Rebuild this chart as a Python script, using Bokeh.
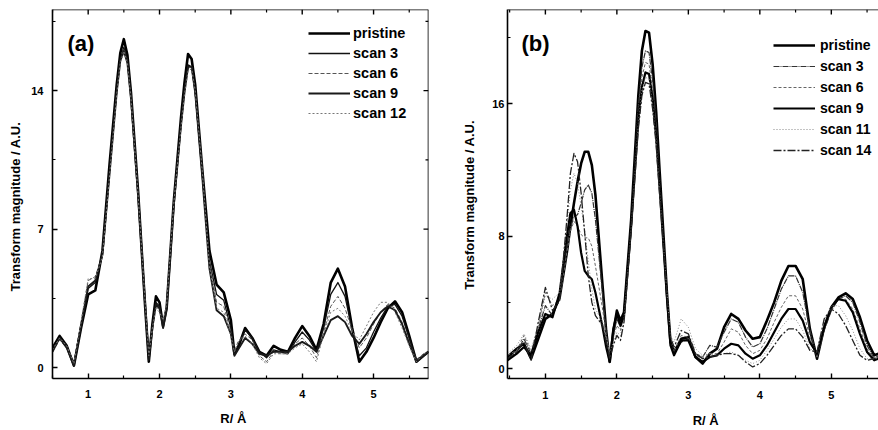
from bokeh.plotting import figure
from bokeh.models import FixedTicker, Legend, LegendItem, Label, Range1d, Span
from bokeh.layouts import row
from bokeh.embed import file_html
from bokeh.resources import INLINE

FONT = "Liberation Sans"
NB = "\u00a0"

# ---------------- panel (a) data ----------------
R_a = [0.5, 0.6, 0.7, 0.8, 0.9, 1.0, 1.1, 1.2, 1.3, 1.4, 1.45, 1.5, 1.55, 1.6, 1.7, 1.8, 1.85,
       1.9, 1.95, 2.0, 2.05, 2.1, 2.2, 2.3, 2.35, 2.4, 2.45, 2.5, 2.6, 2.7, 2.8, 2.9, 3.0, 3.05,
       3.1, 3.2, 3.3, 3.4, 3.5, 3.6, 3.7, 3.8, 3.9, 4.0, 4.1, 4.2, 4.3, 4.4, 4.5, 4.6, 4.7, 4.8,
       4.9, 5.0, 5.1, 5.2, 5.3, 5.4, 5.5, 5.6, 5.7, 5.77]
a_pristine = [1.0, 1.6, 1.1, 0.1, 2.0, 3.7, 3.9, 5.9, 10.3, 14.3, 15.9, 16.6, 15.8, 13.9, 8.9, 3.0, 0.3,
              2.2, 3.6, 3.3, 2.1, 3.0, 8.4, 12.6, 14.4, 15.85, 15.6, 14.3, 10.0, 5.9, 4.2, 3.8, 2.4, 0.7,
              1.0, 2.0, 1.5, 0.8, 0.6, 1.1, 0.9, 0.8, 1.5, 2.1, 1.6, 0.9, 2.2, 4.3, 5.0, 4.1, 2.0, 0.3,
              0.8, 1.5, 2.3, 3.0, 3.35, 2.8, 1.6, 0.3, 0.6, 0.8]
a_scan3 = [0.9, 1.5, 1.1, 0.2, 2.2, 4.0, 4.3, 5.8, 10.0, 14.0, 15.6, 16.2, 15.6, 13.8, 8.9, 3.1, 0.5,
           2.1, 3.3, 3.1, 2.2, 3.1, 8.3, 12.3, 14.0, 15.3, 15.2, 13.9, 9.8, 5.4, 3.7, 3.4, 2.0, 0.7,
           1.1, 1.9, 1.5, 0.8, 0.5, 0.9, 0.8, 0.7, 1.3, 1.8, 1.4, 0.8, 2.0, 3.7, 4.3, 3.6, 1.9, 0.6,
           1.0, 1.8, 2.5, 3.1, 3.2, 2.6, 1.5, 0.4, 0.6, 0.8]
a_scan6 = [0.8, 1.4, 1.0, 0.2, 2.3, 4.4, 4.6, 5.7, 9.8, 13.9, 15.5, 16.1, 15.5, 13.7, 8.8, 3.2, 0.5,
           2.0, 3.1, 2.9, 2.3, 3.2, 8.3, 12.2, 13.9, 15.1, 15.2, 14.0, 10.0, 5.3, 3.3, 3.1, 1.8, 0.8,
           1.3, 1.7, 1.4, 0.6, 0.3, 0.8, 0.7, 0.7, 1.2, 1.5, 1.1, 0.5, 1.8, 3.1, 3.6, 3.0, 1.9, 1.0,
           1.5, 2.2, 2.8, 3.2, 3.0, 2.3, 1.3, 0.4, 0.7, 0.8]
a_scan9 = [0.8, 1.5, 1.0, 0.1, 2.1, 4.1, 4.4, 5.7, 9.8, 13.9, 15.5, 16.0, 15.4, 13.6, 8.7, 3.1, 0.4,
           2.0, 3.2, 3.0, 2.0, 3.0, 8.2, 12.2, 13.9, 15.2, 15.2, 13.9, 9.6, 5.0, 2.9, 2.6, 1.7, 0.6,
           0.9, 1.5, 1.2, 0.7, 0.6, 0.8, 0.8, 0.8, 1.1, 1.3, 1.1, 0.8, 1.6, 2.4, 2.6, 2.3, 1.6, 1.2,
           1.7, 2.3, 2.8, 3.1, 2.9, 2.2, 1.2, 0.3, 0.6, 0.8]
a_scan12 = [0.9, 1.5, 1.1, 0.2, 2.3, 4.5, 4.5, 5.6, 9.7, 13.8, 15.4, 16.0, 15.4, 13.6, 8.7, 3.2, 0.6,
            2.0, 3.0, 2.8, 2.4, 3.2, 8.3, 12.1, 13.8, 15.0, 15.1, 14.0, 9.9, 5.1, 3.0, 2.8, 1.6, 0.8,
            1.3, 1.6, 1.2, 0.5, 0.2, 0.7, 0.7, 0.7, 1.0, 1.2, 0.8, 0.3, 1.7, 2.8, 3.0, 2.6, 1.8, 1.4,
            2.1, 2.8, 3.3, 3.3, 2.8, 2.0, 1.1, 0.3, 0.7, 0.8]

# ---------------- panel (b) data ----------------
R_b = [0.47, 0.6, 0.7, 0.8, 0.9, 1.0, 1.1, 1.2, 1.3, 1.35, 1.4, 1.45, 1.5, 1.55, 1.6, 1.65, 1.7,
       1.8, 1.85, 1.9, 1.95, 2.0, 2.05, 2.1, 2.2, 2.3, 2.35, 2.4, 2.45, 2.5, 2.55, 2.6, 2.7, 2.75,
       2.8, 2.9, 3.0, 3.1, 3.2, 3.3, 3.4, 3.5, 3.6, 3.7, 3.8, 3.9, 4.0, 4.1, 4.2, 4.3, 4.4, 4.5,
       4.6, 4.7, 4.8, 4.9, 5.0, 5.1, 5.2, 5.3, 5.4, 5.5, 5.6, 5.66]
b_pristine = [0.7, 1.2, 1.5, 0.6, 1.8, 3.0, 3.3, 4.3, 7.0, 8.6, 10.0, 11.3, 12.4, 13.1, 13.1, 12.3, 10.5,
              5.0, 2.3, 0.4, 2.2, 3.5, 2.9, 3.4, 9.0, 16.5, 19.2, 20.4, 20.3, 18.4, 15.5, 11.8, 4.6, 1.6,
              1.0, 1.8, 1.9, 0.7, 0.3, 0.9, 1.2, 2.5, 3.3, 3.0, 2.3, 1.8, 1.9, 2.9, 4.0, 5.3, 6.2, 6.2,
              5.4, 2.4, 0.6, 2.5, 3.7, 4.3, 4.55, 4.2, 3.1, 1.7, 0.8, 0.9]
b_scan3 = [0.6, 1.0, 1.8, 0.9, 2.4, 3.8, 3.2, 4.5, 7.3, 8.5, 9.2, 9.3, 10.0, 10.8, 11.1, 10.6, 9.0,
           4.5, 2.2, 0.6, 2.0, 3.0, 2.5, 3.2, 8.8, 15.8, 18.2, 19.2, 19.1, 17.4, 14.8, 11.4, 4.5, 1.5,
           0.9, 1.6, 1.8, 0.9, 0.7, 1.4, 1.3, 2.2, 3.0, 2.8, 1.9, 1.3, 1.5, 2.4, 3.6, 4.8, 5.6, 5.6,
           4.6, 2.3, 0.7, 2.3, 3.5, 4.2, 4.4, 4.0, 2.8, 1.4, 0.6, 0.8]
b_scan6 = [0.8, 1.1, 2.0, 1.0, 2.6, 4.6, 3.8, 4.2, 7.0, 8.3, 8.9, 8.6, 8.1, 7.9, 7.9, 7.4, 6.2,
           3.6, 2.0, 0.8, 1.9, 2.6, 2.3, 3.3, 8.7, 15.4, 17.6, 18.5, 18.4, 16.8, 14.4, 11.0, 4.4, 1.5,
           1.0, 2.0, 1.9, 0.8, 0.6, 0.9, 0.9, 1.6, 2.4, 2.2, 1.4, 0.9, 1.1, 1.8, 2.8, 3.7, 4.4, 4.4,
           3.6, 1.9, 0.7, 2.4, 3.6, 4.2, 4.2, 3.6, 2.4, 1.2, 0.6, 0.7]
b_scan9 = [0.5, 0.9, 1.3, 0.8, 2.2, 3.3, 3.1, 4.6, 8.0, 9.4, 9.6, 8.6, 7.0, 5.9, 5.6, 5.4, 4.6,
           2.5, 1.3, 0.4, 2.4, 3.3, 2.6, 3.2, 8.6, 15.0, 17.0, 17.9, 17.8, 16.3, 14.0, 10.8, 4.3, 1.4,
           0.8, 1.7, 1.7, 0.7, 0.4, 0.7, 0.8, 1.2, 1.5, 1.4, 0.9, 0.6, 0.8, 1.4, 2.2, 3.0, 3.6, 3.6,
           2.9, 1.6, 0.9, 2.5, 3.7, 4.2, 4.1, 3.4, 2.1, 1.0, 0.5, 0.6]
b_scan11 = [0.9, 1.4, 2.1, 1.2, 2.5, 4.4, 4.2, 4.6, 8.6, 10.8, 11.8, 11.2, 9.8, 8.3, 6.5, 4.8, 3.6,
            2.8, 1.9, 1.0, 1.6, 2.2, 2.0, 3.0, 8.5, 14.8, 16.8, 17.6, 17.5, 16.0, 13.8, 10.6, 4.6, 2.0,
            1.6, 3.0, 2.5, 1.2, 0.8, 0.9, 0.8, 0.9, 1.0, 0.8, 0.5, 0.3, 0.5, 1.1, 1.8, 2.5, 3.0, 3.0,
            2.3, 1.2, 1.0, 2.9, 3.8, 3.8, 3.2, 2.3, 1.2, 0.6, 0.6, 0.7]
b_scan14 = [0.6, 1.0, 1.6, 0.5, 2.8, 4.9, 3.5, 4.1, 9.0, 11.8, 13.0, 12.5, 10.6, 8.2, 5.6, 4.0, 3.2,
            2.6, 1.6, 0.6, 1.4, 2.0, 1.7, 2.8, 8.3, 14.5, 16.5, 17.3, 17.2, 15.7, 13.5, 10.4, 4.5, 1.9,
            1.3, 2.3, 2.1, 0.9, 0.6, 0.7, 0.8, 0.9, 0.9, 0.8, 0.4, 0.1, 0.3, 0.8, 1.4, 2.0, 2.4, 2.4,
            1.9, 1.1, 1.0, 3.0, 3.6, 3.3, 2.6, 1.7, 0.8, 0.5, 0.6, 0.7]

labels_a = ["pristine", "scan 3", "scan 6", "scan 9", "scan 12"]
labels_b = ["pristine", "scan 3", "scan 6", "scan 9", "scan 11", "scan 14"]
x_ticks = [1, 2, 3, 4, 5]
x_minor = [0.5, 1.5, 2.5, 3.5, 4.5, 5.5]
y_ticks_a = [0, 7, 14]
y_minor_a = [3.5, 10.5, 17.5]
y_ticks_b = [0, 8, 16]
y_minor_b = [4, 12, 20]
XR_A = (0.5, 5.77)
YR_A = (-0.55, 18.1)
XR_B = (0.47, 5.66)
YR_B = (-0.6, 21.7)

styles_a = [
    dict(line_color="#000000", line_width=2.6),
    dict(line_color="#111111", line_width=1.3),
    dict(line_color="#555555", line_width=1.0, line_dash="4 2"),
    dict(line_color="#1a1a1a", line_width=1.9),
    dict(line_color="#777777", line_width=1.0, line_dash="2 2"),
]
styles_b = [
    dict(line_color="#000000", line_width=2.6),
    dict(line_color="#333333", line_width=1.2, line_dash="6 1 1 1"),
    dict(line_color="#666666", line_width=1.0, line_dash="3 2"),
    dict(line_color="#000000", line_width=2.2),
    dict(line_color="#888888", line_width=1.0, line_dash="1 2"),
    dict(line_color="#222222", line_width=1.3, line_dash="8 2 2 2"),
]


def style_axis(ax, ticks, minor):
    ax.ticker = FixedTicker(ticks=ticks, minor_ticks=minor)
    ax.axis_line_color = "black"
    ax.axis_line_width = 1.6
    ax.major_tick_in = 5
    ax.major_tick_out = 0
    ax.minor_tick_in = 3
    ax.minor_tick_out = 0
    ax.major_tick_line_width = 1.4
    ax.minor_tick_line_width = 1.2
    ax.major_tick_line_color = "black"
    ax.minor_tick_line_color = "black"
    ax.major_label_text_font = FONT
    ax.major_label_text_font_style = "bold"
    ax.major_label_text_font_size = "11px"
    ax.major_label_text_color = "black"
    ax.axis_label_text_font = FONT
    ax.axis_label_text_font_style = "bold"
    ax.axis_label_text_font_size = "13px"
    ax.axis_label_text_color = "black"


def edge_ticks(p, xr, yr, yt, ym, right, frame_w, frame_h):
    # inward ticks along the top edge (and the right edge for panel a); lengths in pixels
    dy = (yr[1] - yr[0]) / frame_h
    dx = (xr[1] - xr[0]) / frame_w
    n, m = len(x_ticks), len(x_minor)
    p.segment(x0=x_ticks, y0=[yr[1]] * n, x1=x_ticks, y1=[yr[1] - 5 * dy] * n,
              line_color="black", line_width=1.4)
    p.segment(x0=x_minor, y0=[yr[1]] * m, x1=x_minor, y1=[yr[1] - 3 * dy] * m,
              line_color="black", line_width=1.2)
    p.add_layout(Span(location=yr[1], dimension="width", line_color="black", line_width=1.6))
    if right:
        k, q = len(yt), len(ym)
        p.segment(x0=[xr[1]] * k, y0=yt, x1=[xr[1] - 5 * dx] * k, y1=yt,
                  line_color="black", line_width=1.4)
        p.segment(x0=[xr[1]] * q, y0=ym, x1=[xr[1] - 3 * dx] * q, y1=ym,
                  line_color="black", line_width=1.2)
        p.add_layout(Span(location=xr[1], dimension="height", line_color="black", line_width=1.6))


def make_panel(width, borders, xr, yr, yt, ym, right):
    p = figure(width=width, height=430, x_range=Range1d(*xr), y_range=Range1d(*yr),
               output_backend="svg", toolbar_location=None, tools="",
               min_border_left=borders[0], min_border_right=borders[1],
               min_border_top=borders[2], min_border_bottom=borders[3])
    p.xgrid.visible = False
    p.ygrid.visible = False
    p.outline_line_color = None
    p.background_fill_color = "white"
    style_axis(p.xaxis[0], x_ticks, x_minor)
    style_axis(p.yaxis[0], yt, ym)
    frame_w = width - borders[0] - borders[1]
    frame_h = 430 - borders[2] - borders[3]
    edge_ticks(p, xr, yr, yt, ym, right, frame_w, frame_h)
    return p


# ---------------- panel (a) ----------------
p1 = make_panel(438, (52, 10, 9, 52), XR_A, YR_A, y_ticks_a, y_minor_a, True)
p1.yaxis[0].major_label_standoff = 9
p1.yaxis[0].axis_label_standoff = 5
p1.yaxis[0].axis_label = "Transform magnitude / A.U." + NB * 7
p1.xaxis[0].major_label_standoff = 11
p1.xaxis[0].axis_label_standoff = 10
p1.xaxis[0].axis_label = "R/ Å" + NB * 4
items = []
for lab, ys, st in zip(labels_a, [a_pristine, a_scan3, a_scan6, a_scan9, a_scan12], styles_a):
    r = p1.line(R_a, ys, line_join="round", **st)
    items.append(LegendItem(label=lab, renderers=[r]))
leg1 = Legend(items=items, location=(256, 257), glyph_width=42, glyph_height=16, label_height=16,
              spacing=4, padding=0, margin=0, label_standoff=3, border_line_color=None,
              background_fill_alpha=0, label_text_font=FONT, label_text_font_style="bold",
              label_text_font_size="14.5px", label_text_color="black")
p1.add_layout(leg1)
p1.add_layout(Label(x=0.71, y=16.4, text="(a)", text_font=FONT, text_font_style="bold",
                    text_font_size="22px", text_baseline="middle", text_color="black"))

# ---------------- panel (b) ----------------
p2 = make_panel(440, (69, 0, 8, 47), XR_B, YR_B, y_ticks_b, y_minor_b, False)
p2.yaxis[0].major_label_standoff = 3
p2.yaxis[0].axis_label_standoff = 12
p2.yaxis[0].axis_label = "Transform magnitude / A.U." + NB * 6
p2.xaxis[0].major_label_standoff = 12
p2.xaxis[0].axis_label_standoff = 11
p2.xaxis[0].axis_label = NB * 7 + "R/ Å"
items = []
for lab, ys, st in zip(labels_b, [b_pristine, b_scan3, b_scan6, b_scan9, b_scan11, b_scan14], styles_b):
    r = p2.line(R_b, ys, line_join="round", **st)
    items.append(LegendItem(label=lab, renderers=[r]))
leg2 = Legend(items=items, location=(266, 220), glyph_width=42, glyph_height=16, label_height=16,
              spacing=5, padding=0, margin=0, label_standoff=5, border_line_color=None,
              background_fill_alpha=0, label_text_font=FONT, label_text_font_style="bold",
              label_text_font_size="14px", label_text_color="black")
p2.add_layout(leg2)
p2.add_layout(Label(x=0.665, y=19.67, text="(b)", text_font=FONT, text_font_style="bold",
                    text_font_size="22px", text_baseline="middle", text_color="black"))

layout = row(p1, p2)
open("out.html", "w").write(file_html(layout, INLINE))
